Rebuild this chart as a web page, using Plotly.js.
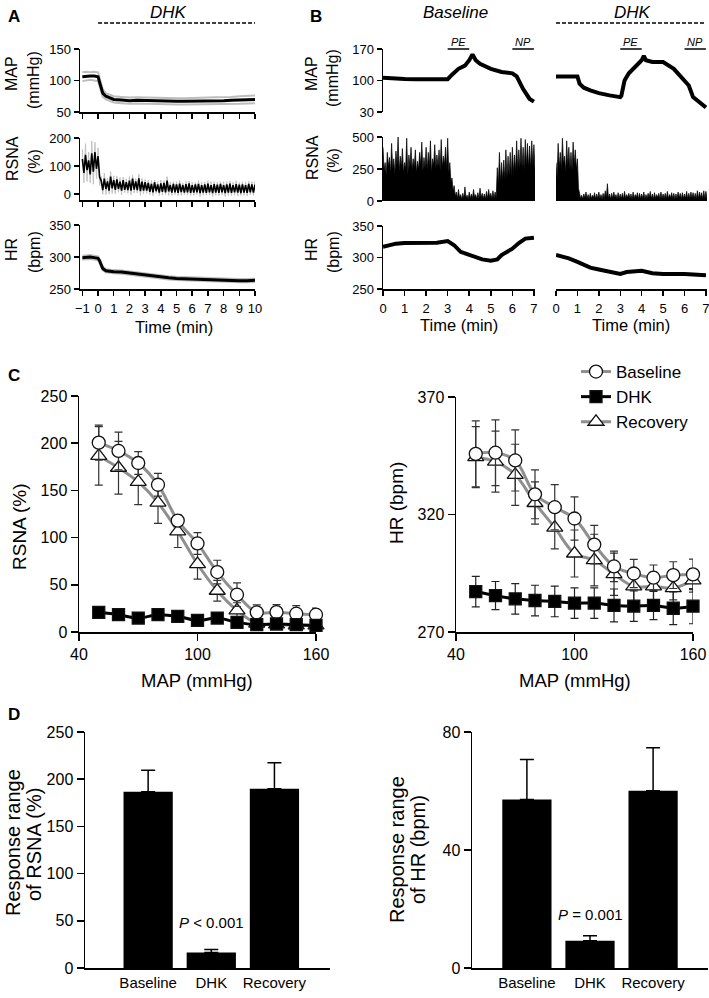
<!DOCTYPE html>
<html>
<head>
<meta charset="utf-8">
<script src="https://cdn.plot.ly/plotly-3.0.1.min.js"></script>
<style>html,body{margin:0;padding:0;background:#fff}</style>
</head>
<body>
<div id="chart" style="width:709px;height:998px"></div>
<script>
// ---------- panel A: mean response to DHK (time in min) ----------
const tA = [-1, -0.75, -0.5, -0.25, 0, 0.1, 0.2, 0.3, 0.5, 0.75, 1, 1.5, 2, 2.5, 3, 3.5, 4, 4.5, 5, 5.5, 6, 6.5, 7, 7.5, 8, 8.5, 9, 9.5, 10];
const mapA = [106, 107, 107, 107, 106, 97, 87, 80, 75, 72, 70, 69, 68, 68.5, 68, 67.5, 67, 67, 67, 67, 67, 67, 67.5, 68, 68, 68.5, 69, 69.5, 70];
const mapASem = [7, 7, 6, 7, 7, 6, 6, 6, 5, 5, 5, 5, 5, 5, 5, 5, 5, 5, 5, 5, 5, 5, 5.5, 5.5, 5.5, 5.5, 6, 6, 6];
const hrA = [299, 300, 300, 299, 298, 294, 288, 282, 278.5, 277.5, 277, 276.5, 275, 273.5, 271, 269.5, 268.5, 267.5, 266.5, 266, 265, 264.5, 264, 263.5, 263.5, 263, 263, 263, 263.5];
const hrASem = [3, 3, 3, 3, 3, 3, 3, 3, 2.5, 2.5, 2.5, 2.5, 2.5, 2.5, 2.5, 2.5, 2.5, 2.5, 2.5, 2.5, 2.5, 2.5, 2.5, 2.5, 2.5, 2.5, 2.5, 2.5, 2.5];

const tRA = [-1, -0.8, -0.6, -0.4, -0.2, 0, 0.2, 0.4, 0.6, 0.8, 1, 1.2, 1.4, 1.6, 1.8, 2, 2.2, 2.4, 2.6, 2.8, 3,
  3.2, 3.4, 3.6, 3.8, 4, 4.2, 4.4, 4.6, 4.8, 5, 5.2, 5.4, 5.6, 5.8, 6, 6.2, 6.4, 6.6, 6.8, 7,
  7.2, 7.4, 7.6, 7.8, 8, 8.2, 8.4, 8.6, 8.8, 9, 9.2, 9.4, 9.6, 9.8, 10];
const rsnaAHi = [125, 140, 120, 145, 150, 135,
  48, 55, 45, 62, 50, 52, 44, 50, 42, 48, 55, 45, 56, 44, 42,
  40, 36, 42, 34, 38, 40, 48, 32, 36, 34, 37, 32, 35, 38, 32, 34, 36, 32, 34, 37,
  32, 35, 33, 36, 32, 34, 37, 32, 35, 33, 34, 32, 36, 34, 33];
const rsnaALo = [75, 85, 70, 80, 90, 60,
  14, 18, 12, 20, 15, 18, 12, 15, 14, 12, 16, 14, 10, 12, 12,
  8, 6, 10, 5, 8, 6, 9, 5, 6, 4, 7, 5, 6, 4, 5, 6, 3, 5, 4, 6,
  3, 5, 4, 6, 3, 5, 4, 6, 5, 3, 5, 4, 6, 5, 4];
const rsnaASem = [35, 40, 30, 45, 35, 30,
  15, 20, 12, 18, 15, 12, 15, 10, 12, 15, 12, 10, 15, 12, 10,
  10, 12, 8, 10, 12, 8, 14, 10, 8, 10, 12, 8, 10, 9, 10, 8, 12, 10, 8, 10,
  12, 9, 10, 8, 12, 10, 9, 10, 12, 8, 10, 11, 9, 10, 12];

// ---------- panel B: single-rat recordings ----------
const mapBBaseT = [0, 0.5, 1, 1.5, 2, 2.5, 3, 3.2, 3.5, 3.8, 4.0, 4.15, 4.3, 4.5, 5, 5.5, 5.8, 6.0, 6.2, 6.5, 6.8, 7.0];
const mapBBase = [106, 104, 103.5, 103, 103.5, 103, 103, 113, 126, 133, 145, 158, 145, 137, 126, 119, 118.5, 116, 109, 81, 59, 53];
const mapBDhkT = [0, 0.5, 1.0, 1.1, 1.3, 1.6, 2, 2.5, 3, 3.05, 3.2, 3.4, 3.7, 4.0, 4.1, 4.2, 4.5, 5.0, 5.5, 6.0, 6.2, 6.4, 6.7, 7.0];
const mapBDhk = [109, 109, 109, 93, 84, 78, 72, 67, 63, 66, 100, 116, 130, 145, 155, 145, 141, 141, 126, 100, 89, 63, 52, 40];
const hrBBaseT = [0, 0.3, 0.6, 1, 1.5, 2, 2.5, 3, 3.3, 3.6, 4, 4.3, 4.6, 5, 5.3, 5.5, 5.8, 6, 6.3, 6.6, 7];
const hrBBase = [317, 319.5, 322, 323, 323, 324.5, 323.5, 326, 319.5, 309, 304, 301, 297, 295, 297, 304, 309, 314, 323, 330, 331.5];
const hrBDhkT = [0, 0.3, 0.6, 1, 1.3, 1.6, 2, 2.5, 3, 3.3, 4, 4.5, 5, 6, 6.5, 7];
const hrBDhk = [304, 302, 298.5, 293, 288, 284, 281, 277.5, 274, 277, 279, 275, 274, 274, 273, 272];

const tB = [0, 0.1, 0.2, 0.3, 0.4, 0.5, 0.6, 0.7, 0.8, 0.9, 1, 1.1, 1.2, 1.3, 1.4, 1.5, 1.6, 1.7, 1.8, 1.9,
  2, 2.1, 2.2, 2.3, 2.4, 2.5, 2.6, 2.7, 2.8, 2.9, 3, 3.1, 3.2, 3.3, 3.4, 3.5, 3.6, 3.7, 3.8, 3.9,
  4, 4.1, 4.2, 4.3, 4.4, 4.5, 4.6, 4.7, 4.8, 4.9, 5, 5.1, 5.2, 5.3, 5.4, 5.5, 5.6, 5.7, 5.8, 5.9,
  6, 6.1, 6.2, 6.3, 6.4, 6.5, 6.6, 6.7, 6.8, 6.9, 7];
const rsnaBBaseHi = [420, 300, 380, 340, 450, 330, 390, 500, 350, 410, 300, 490, 360, 420, 330, 400, 310, 380, 460, 340,
  420, 380, 470, 330, 440, 360, 400, 480, 350, 420, 490,
  300, 180, 120,
  70, 90, 50, 60, 110, 45, 70, 55, 90, 50, 65, 100, 60, 55, 75, 90, 60, 80, 70,
  260, 380, 300, 320, 400, 350, 380, 420, 360, 470, 400, 490, 420, 480, 450, 430, 470, 440];
const rsnaBBaseLo = [240, 200, 270, 220, 250, 210, 280, 230, 260, 220, 250, 200, 270, 240, 260, 220, 250, 280, 230, 260,
  240, 270, 220, 280, 250, 270, 240, 260, 280, 250, 220,
  150, 80, 40,
  20, 25, 15, 20, 25, 15, 20, 20, 25, 15, 20, 25, 20, 15, 20, 25, 20, 20, 25,
  130, 150, 160, 170, 180, 200, 190, 220, 230, 240, 250, 260, 240, 270, 260, 250, 280, 240];
const rsnaBDhkHi = [300, 450, 380, 490, 350, 470, 420, 380, 460, 400, 330,
  60, 45, 55, 70, 50, 60, 45, 65, 55, 70,
  50, 60, 80, 135, 55, 60, 70, 50, 65, 55,
  60, 75, 50, 60, 55, 70, 50, 65, 60, 55,
  70, 50, 60, 75, 55, 65, 50, 60, 70, 55,
  60, 75, 50, 65, 60, 55, 70, 60, 65, 55,
  75, 60, 70, 65, 60, 80, 70, 65, 80, 75];
const rsnaBDhkLo = [180, 260, 240, 290, 220, 270, 250, 240, 280, 250, 100,
  20, 15, 25, 20, 15, 20, 25, 15, 20, 20,
  15, 20, 25, 20, 15, 20, 25, 15, 20, 20,
  15, 20, 25, 20, 15, 20, 25, 15, 20, 20,
  15, 20, 25, 20, 15, 20, 25, 15, 20, 20,
  15, 20, 25, 20, 15, 20, 25, 15, 20, 20,
  15, 20, 25, 20, 15, 20, 25, 15, 20, 20];
const pePeriod = [3, 4];
const npPeriod = [6, 7];
const dhkPeriodA = [0, 10];

// ---------- panel C: baroreflex curves ----------
const mapLevels = [50, 60, 70, 80, 90, 100, 110, 120, 130, 140, 150, 160];
const rsnaBase = [200.6, 191.8, 179, 156, 118, 93.8, 63.5, 39.5, 20.8, 21, 19.4, 18.3];
const rsnaBaseSe = [18.5, 20, 12, 12, 6, 11.5, 12.5, 12.5, 8, 8, 8.5, 7];
const rsnaDhk = [20.8, 18.3, 14.8, 18.3, 16.6, 12.3, 14.8, 10.2, 7.8, 8.5, 7.8, 7];
const rsnaDhkSe = [3, 3, 3, 3, 3, 2.5, 2.5, 2.5, 2, 2, 2, 2];
const rsnaRec = [186.5, 174, 159, 137, 106.5, 72, 43.7, 23, 9, 8, 7, 7];
const rsnaRecSe = [31, 28, 24, 22, 17, 16, 11, 8, 5, 4, 4, 4];
const hrBase = [345.8, 346.3, 343, 328.6, 323.1, 318.3, 307.2, 297.9, 294.9, 293.1, 294.2, 294.5];
const hrBaseSe = [14, 14, 13, 10.4, 9.6, 9.2, 8.2, 6.5, 6, 5.4, 5.7, 6.5];
const hrDhk = [287.2, 285.5, 284.1, 283.4, 283, 282.3, 282.3, 281.3, 281, 281.3, 280.1, 281];
const hrDhkSe = [6.5, 6, 6.5, 6.5, 6.5, 6.5, 6.5, 7, 6.5, 6, 7, 7.5];
const hrRec = [344.4, 342.5, 336.9, 324.9, 314.4, 303.4, 300.6, 294.6, 289.4, 289.4, 288.7, 292];
const hrRecSe = [13, 13, 13, 9, 9, 10, 11, 9, 7, 6, 5, 5];

// ---------- panel D: response ranges ----------
const groups = ['Baseline', 'DHK', 'Recovery'];
const rangeRsna = [186.6, 16.5, 190];
const rangeRsnaSe = [23, 3, 27.5];
const rangeHr = [57.1, 9.2, 60.1];
const rangeHrSe = [13.6, 1.7, 14.6];

// ---------- helpers ----------
const W = 709, H = 998;
const FONT = 'Liberation Sans, Arial, sans-serif';
const GRAY = '#8f8f8f';
const dx = (a, b) => [a / W, b / W];
const dy = (top, bottom) => [1 - bottom / H, 1 - top / H];

function axis(domain, range, anchor, extra) {
    return Object.assign({
        domain, range, anchor,
        showline: true, linecolor: '#000', linewidth: 1.5,
        ticks: 'outside', ticklen: 5, tickwidth: 1.5, tickcolor: '#000',
        showgrid: false, zeroline: false, fixedrange: true, ticklabeloverflow: 'allow',
        tickfont: { size: 13, color: '#000', family: FONT }
    }, extra || {});
}
const hidden = (domain, range, anchor) => ({
    domain, range, anchor, visible: false, showgrid: false, zeroline: false, fixedrange: true
});

function zig(t, a, b, step) {
    const x = [], y = [];
    t.forEach((ti, i) => { x.push(ti, ti + step / 2); y.push(a[i], b[i]); });
    return { x, y };
}
const add = (a, b, s) => a.map((v, i) => v + s * b[i]);

function txt(text, px, py, size, extra) {
    return Object.assign({
        text, x: px / W, y: 1 - py / H, xref: 'paper', yref: 'paper', showarrow: false,
        xanchor: 'center', yanchor: 'middle', font: { size, color: '#000', family: FONT }
    }, extra || {});
}
const vtxt = (text, px, py, size) => txt(text, px, py, size, { textangle: -90 });

const traces = [];
const line = (x, y, xa, ya, color, width) => ({
    type: 'scatter', mode: 'lines', x, y, xaxis: xa, yaxis: ya, showlegend: false,
    line: { color, width }, hoverinfo: 'skip'
});

// ---------- A traces ----------
traces.push(line(tA, add(mapA, mapASem, 1), 'x', 'y', '#bdbdbd', 2));
traces.push(line(tA, add(mapA, mapASem, -1), 'x', 'y', '#bdbdbd', 2));
traces.push(line(tA, mapA, 'x', 'y', '#000', 3));

const rsnaAGray = zig(tRA, add(rsnaAHi, rsnaASem, 1), add(rsnaALo, rsnaASem, -1), 0.2);
traces.push(line(rsnaAGray.x, rsnaAGray.y, 'x2', 'y2', '#c2c2c2', 1));
const rsnaABlack = zig(tRA, rsnaAHi, rsnaALo, 0.2);
traces.push(line(rsnaABlack.x, rsnaABlack.y, 'x2', 'y2', '#000', 1.6));

traces.push(line(tA, add(hrA, hrASem, 1), 'x3', 'y3', '#bdbdbd', 2));
traces.push(line(tA, add(hrA, hrASem, -1), 'x3', 'y3', '#bdbdbd', 2));
traces.push(line(tA, hrA, 'x3', 'y3', '#000', 3));

// ---------- B traces ----------
traces.push(line(mapBBaseT, mapBBase, 'x4', 'y4', '#000', 4));
const rb = zig(tB, rsnaBBaseHi, rsnaBBaseLo, 0.1);
traces.push(Object.assign(line(rb.x, rb.y, 'x5', 'y5', '#000', 0.7), { fill: 'tozeroy', fillcolor: '#000' }));
traces.push(line(hrBBaseT, hrBBase, 'x6', 'y6', '#000', 4));

traces.push(line(mapBDhkT, mapBDhk, 'x7', 'y7', '#000', 4));
const rd = zig(tB, rsnaBDhkHi, rsnaBDhkLo, 0.1);
traces.push(Object.assign(line(rd.x, rd.y, 'x8', 'y8', '#000', 0.7), { fill: 'tozeroy', fillcolor: '#000' }));
traces.push(line(hrBDhkT, hrBDhk, 'x9', 'y9', '#000', 4));

// ---------- C traces ----------
function curve(name, y, se, xa, ya, style, rank, legend) {
    return {
        type: 'scatter', mode: 'lines+markers', name, x: mapLevels, y, xaxis: xa, yaxis: ya,
        showlegend: legend, legendrank: rank, cliponaxis: false, hoverinfo: 'skip',
        line: { color: style.line, width: 3, shape: 'spline', smoothing: 1 },
        marker: { symbol: style.symbol, size: style.size, color: style.fill, line: { color: '#111', width: 1.3 } },
        error_y: { type: 'data', array: se, visible: true, color: style.err, thickness: 1.2, width: 4 }
    };
}
const sBase = { line: GRAY, symbol: 'circle', size: 13, fill: '#fff', err: '#333' };
const sDhk = { line: '#000', symbol: 'square', size: 12, fill: '#000', err: '#222' };
const sRec = { line: GRAY, symbol: 'triangle-up', size: 14, fill: '#fff', err: '#333' };

traces.push(curve('Recovery', rsnaRec, rsnaRecSe, 'x10', 'y10', sRec, 3, true));
traces.push(curve('Baseline', rsnaBase, rsnaBaseSe, 'x10', 'y10', sBase, 1, true));
traces.push(curve('DHK', rsnaDhk, rsnaDhkSe, 'x10', 'y10', sDhk, 2, true));
traces.push(curve('Recovery', hrRec, hrRecSe, 'x11', 'y11', sRec, 3, false));
traces.push(curve('Baseline', hrBase, hrBaseSe, 'x11', 'y11', sBase, 1, false));
traces.push(curve('DHK', hrDhk, hrDhkSe, 'x11', 'y11', sDhk, 2, false));

// ---------- D traces ----------
function bars(y, se, xa, ya) {
    return {
        type: 'bar', x: groups, y, xaxis: xa, yaxis: ya, width: 0.78, showlegend: false,
        marker: { color: '#000' }, hoverinfo: 'skip', cliponaxis: false,
        error_y: { type: 'data', symmetric: false, array: se, arrayminus: se.map(() => 0), color: '#000', thickness: 1.5, width: 7 }
    };
}
traces.push(bars(rangeRsna, rangeRsnaSe, 'x12', 'y12'));
traces.push(bars(rangeHr, rangeHrSe, 'x13', 'y13'));

// ---------- layout ----------
const tA_ticks = [-1, 0, 1, 2, 3, 4, 5, 6, 7, 8, 9, 10];
const tB_ticks = [0, 1, 2, 3, 4, 5, 6, 7];
const fC = { size: 16, color: '#000', family: FONT };

const layout = {
    width: W, height: H,
    margin: { l: 0, r: 0, t: 0, b: 0 },
    paper_bgcolor: '#fff', plot_bgcolor: 'rgba(0,0,0,0)',
    font: { family: FONT, color: '#000' },
    showlegend: true,
    legend: {
        x: 576 / W, y: 1 - 354 / H, xanchor: 'left', yanchor: 'top',
        font: { size: 17, color: '#000', family: FONT }, bgcolor: 'rgba(0,0,0,0)',
        tracegroupgap: 0, traceorder: 'normal', itemsizing: 'trace'
    },

    xaxis: axis(dx(80, 255), [-1.15, 10], 'y', { tickvals: tA_ticks, showticklabels: false }),
    yaxis: axis(dy(49, 112), [50, 150], 'x', { tickvals: [50, 100, 150] }),
    xaxis2: axis(dx(80, 255), [-1.15, 10], 'y2', { tickvals: tA_ticks, showticklabels: false }),
    yaxis2: axis(dy(138, 200), [-21.4, 200], 'x2', { tickvals: [0, 100, 200] }),
    xaxis3: axis(dx(80, 255), [-1.15, 10], 'y3', { tickvals: tA_ticks, ticklabelstandoff: 2 }),
    yaxis3: axis(dy(225, 289), [250, 350], 'x3', { tickvals: [250, 300, 350] }),

    xaxis4: hidden(dx(383, 535), [0, 7.05], 'y4'),
    yaxis4: axis(dy(49, 112), [30, 170], 'x4', { tickvals: [30, 100, 170] }),
    xaxis5: hidden(dx(383, 535), [0, 7.05], 'y5'),
    yaxis5: axis(dy(137, 201), [0, 500], 'x5', { tickvals: [0, 250, 500] }),
    xaxis6: axis(dx(383, 535), [0, 7.05], 'y6', { tickvals: tB_ticks, ticklabelstandoff: 2 }),
    yaxis6: axis(dy(226, 289), [250, 350], 'x6', { tickvals: [250, 300, 350] }),

    xaxis7: hidden(dx(556, 707), [0, 7.05], 'y7'),
    yaxis7: hidden(dy(49, 112), [30, 170], 'x7'),
    xaxis8: hidden(dx(556, 707), [0, 7.05], 'y8'),
    yaxis8: hidden(dy(137, 201), [0, 500], 'x8'),
    xaxis9: axis(dx(556, 707), [0, 7.05], 'y9', { tickvals: tB_ticks, ticklabelstandoff: 2 }),
    yaxis9: hidden(dy(226, 289), [250, 350], 'x9'),

    xaxis10: axis(dx(79, 316), [40, 160], 'y10', { tickvals: [40, 100, 160], ticklen: 7, tickfont: fC }),
    yaxis10: axis(dy(396, 632), [0, 250], 'x10', { tickvals: [0, 50, 100, 150, 200, 250], ticklen: 7, tickfont: fC }),
    xaxis11: axis(dx(456, 693), [40, 160], 'y11', { tickvals: [40, 100, 160], ticklen: 7, tickfont: fC }),
    yaxis11: axis(dy(397, 632), [270, 370], 'x11', { tickvals: [270, 320, 370], ticklen: 7, tickfont: fC }),

    xaxis12: axis(dx(85, 330), [-1.0, 2.88], 'y12', { type: 'category', ticks: '', tickfont: { size: 15, color: '#000', family: FONT } }),
    yaxis12: axis(dy(732, 968), [0, 250], 'x12', { tickvals: [0, 50, 100, 150, 200, 250], ticklen: 7, tickfont: fC }),
    xaxis13: axis(dx(472, 708), [-0.87, 2.87], 'y13', { type: 'category', ticks: '', tickfont: { size: 15, color: '#000', family: FONT } }),
    yaxis13: axis(dy(732, 968), [0, 80], 'x13', { tickvals: [0, 40, 80], ticklen: 7, tickfont: fC }),

    shapes: [
        { type: 'line', xref: 'x', yref: 'paper', x0: dhkPeriodA[0], x1: dhkPeriodA[1], y0: 1 - 23 / H, y1: 1 - 23 / H, line: { color: '#000', width: 1.3, dash: '4px,2px' } },
        { type: 'line', xref: 'x7', yref: 'paper', x0: 0, x1: 7, y0: 1 - 23 / H, y1: 1 - 23 / H, line: { color: '#000', width: 1.3, dash: '4px,2px' } }
    ],
    annotations: [
        txt('<b>A</b>', 14, 17, 17), txt('<b>B</b>', 316, 17, 17),
        txt('<b>C</b>', 14, 376, 17), txt('<b>D</b>', 14, 714, 17),
        txt('<i>DHK</i>', 168, 12, 17), txt('<i>Baseline</i>', 455, 12, 17), txt('<i>DHK</i>', 632, 12, 17),

        vtxt('MAP', 12, 74, 16), vtxt('(mmHg)', 34, 80, 16),
        vtxt('RSNA', 12, 159, 16), vtxt('(%)', 34, 162, 16),
        vtxt('HR', 12, 250, 16), vtxt('(bpm)', 34, 252, 16),
        vtxt('MAP', 312, 74, 16), vtxt('(mmHg)', 333, 78, 16),
        vtxt('RSNA', 312, 158, 16), vtxt('(%)', 333, 161, 16),
        vtxt('HR', 312, 250, 16), vtxt('(bpm)', 333, 252, 16),
        txt('Time (min)', 174, 327, 16.5), txt('Time (min)', 459, 325, 16.5), txt('Time (min)', 631, 325, 16.5),

        vtxt('RSNA (%)', 19, 527, 19), vtxt('HR (bpm)', 396, 503, 19),
        txt('MAP (mmHg)', 197, 680, 18.5), txt('MAP (mmHg)', 575, 680, 18.5),

        vtxt('Response range', 13, 843, 20), vtxt('of RSNA (%)', 34, 845, 20),
        vtxt('Response range', 397, 850, 20), vtxt('of HR (bpm)', 418, 850, 20),
        { text: '<i>P</i> < 0.001', xref: 'x12', yref: 'y12', x: 'DHK', y: 48.7, showarrow: false, font: { size: 15, color: '#000', family: FONT } },
        { text: '<i>P</i> = 0.001', xref: 'x13', yref: 'y13', x: 'DHK', y: 18, showarrow: false, font: { size: 15, color: '#000', family: FONT } }
    ]
};

// PE / NP markers over the MAP traces of panel B
['x4', 'x7'].forEach(xa => {
    [[pePeriod, 'PE'], [npPeriod, 'NP']].forEach(([p, label]) => {
        layout.shapes.push({ type: 'line', xref: xa, yref: 'paper', x0: p[0], x1: p[1], y0: 1 - 49 / H, y1: 1 - 49 / H, line: { color: '#000', width: 1.5 } });
        layout.annotations.push({
            text: '<i>' + label + '</i>', xref: xa, yref: 'paper', x: (p[0] + p[1]) / 2, y: 1 - 42 / H,
            xanchor: 'center', yanchor: 'middle', showarrow: false, font: { size: 11, color: '#000', family: FONT }
        });
    });
});

Plotly.newPlot('chart', traces, layout, { staticPlot: true, displayModeBar: false });
</script>
</body>
</html>
